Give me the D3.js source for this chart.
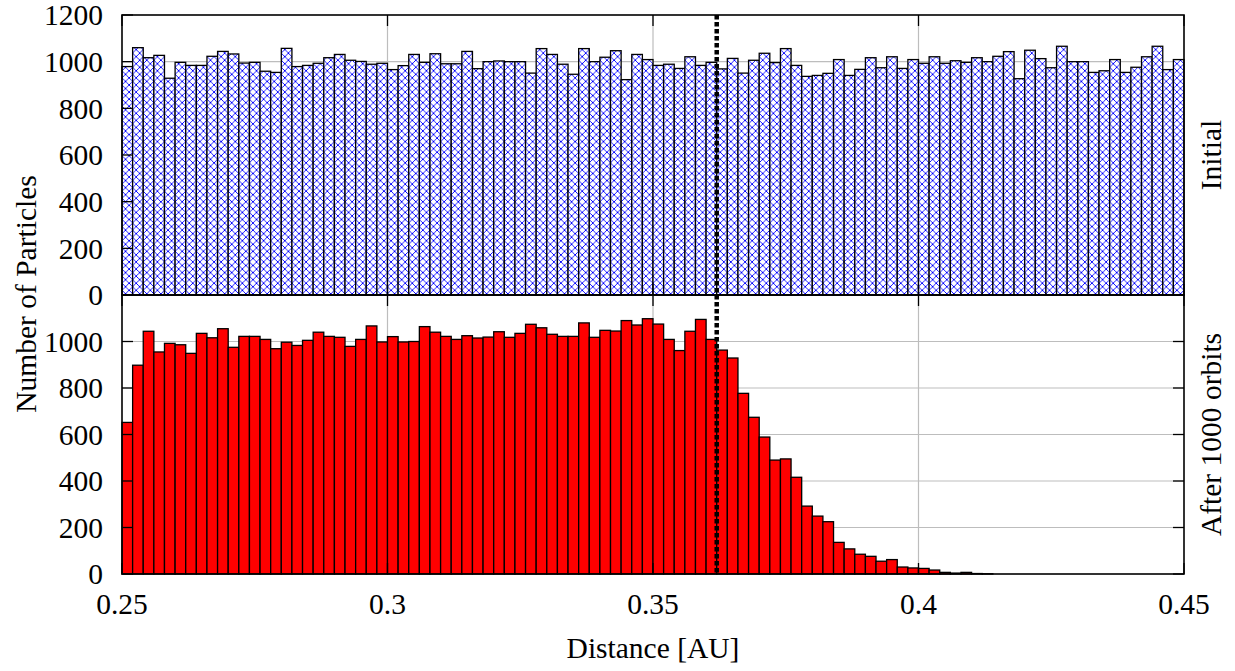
<!DOCTYPE html>
<html>
<head>
<meta charset="utf-8">
<script src="https://cdn.jsdelivr.net/npm/d3@7"></script>
<style>
  html, body { margin: 0; padding: 0; background: #fff; }
  svg { display: block; }
</style>
</head>
<body>
<svg id="chart" width="1235" height="671" font-family="'Liberation Serif', 'DejaVu Serif', serif"></svg>
<script>
// Histogram of particle distances: 100 bins of 0.002 AU from 0.25 to 0.45
const binStart = 0.25;
const binWidth = 0.002;

const initialCounts = [
  979,1060,1017,1027,929,997,984,984,1023,1044,1033,994,997,959,954,1057,979,984,993,1017,1031,1006,1001,989,993,
  966,983,1031,997,1034,991,991,1044,970,1000,1003,1000,1000,951,1056,1031,989,946,1056,1000,1019,1047,923,1031,1009,
  984,989,971,1021,984,997,969,1014,951,1006,1036,996,1056,984,937,941,950,1009,941,967,1017,974,1021,971,1009,
  993,1021,993,1004,997,1017,1000,1023,1043,927,1049,1013,974,1066,1000,1000,954,961,1009,954,976,1021,1066,966,1009
];

const finalCounts = [
  652,898,1044,955,992,986,949,1035,1016,1055,975,1022,1022,1009,969,997,983,1005,1040,1022,1018,979,1009,1067,998,
  1021,998,1000,1064,1040,1022,1009,1025,1015,1019,1042,1018,1035,1074,1059,1031,1022,1022,1080,1018,1048,1045,1090,1071,1098,
  1075,1009,961,1044,1095,1009,963,929,777,674,589,490,495,416,292,249,225,136,108,85,76,55,62,30,26,
  24,17,7,4,7,2,1,0,0,0,0,0,0,0,0,0,0,0,0,0,0,0,0,0,0
];

const xDomain = [0.25, 0.45];
const xTicks = [0.25, 0.3, 0.35, 0.4, 0.45];
const xTickLabels = ["0.25", "0.3", "0.35", "0.4", "0.45"];
const yDomain = [0, 1200];
const yTicksTop = [0, 200, 400, 600, 800, 1000, 1200];
const yTicksBottom = [0, 200, 400, 600, 800, 1000];
const markerX = 0.362;

const panelLabels = ["Initial", "After 1000 orbits"];
const xTitle = "Distance [AU]";
const yTitle = "Number of Particles";

const svg = d3.select("#chart");
const left = 122, right = 1184;
const panels = [
  { top: 15, bottom: 295, data: initialCounts, ticks: yTicksTop, label: panelLabels[0], hatch: true, rightTicks: false },
  { top: 295, bottom: 574, data: finalCounts, ticks: yTicksBottom, label: panelLabels[1], hatch: false, rightTicks: true }
];

const x = d3.scaleLinear().domain(xDomain).range([left, right]);
const binW = x(binStart + binWidth) - x(binStart);

// Blue cross-hatch for the initial distribution
const cell = binW / 1.5;
const defs = svg.append("defs");
const pat = defs.append("pattern")
  .attr("id", "crosshatch")
  .attr("patternUnits", "userSpaceOnUse")
  .attr("x", left).attr("y", 0)
  .attr("width", cell).attr("height", cell);
pat.append("rect").attr("width", cell).attr("height", cell).attr("fill", "#fff");
pat.append("path")
  .attr("d", `M0,0L${cell},${cell}M0,${cell}L${cell},0`)
  .attr("stroke", "#0000ff").attr("stroke-width", 1).attr("fill", "none")
  .attr("shape-rendering", "crispEdges");

const tickLen = 11;
const fs = 29.5;

panels.forEach((p, pi) => {
  const y = d3.scaleLinear().domain(yDomain).range([p.bottom, p.top]);
  const g = svg.append("g");

  // grid
  g.selectAll(".gx").data(xTicks.slice(1, -1)).join("line")
    .attr("x1", d => x(d)).attr("x2", d => x(d))
    .attr("y1", p.top).attr("y2", p.bottom)
    .attr("stroke", "#bdbdbd").attr("stroke-width", 1.2);
  g.selectAll(".gy").data(p.ticks.filter(t => t > 0 && t < 1200)).join("line")
    .attr("x1", left).attr("x2", right)
    .attr("y1", d => y(d)).attr("y2", d => y(d))
    .attr("stroke", "#bdbdbd").attr("stroke-width", 1.2);

  // bars
  g.selectAll(".bar").data(p.data).join("rect")
    .attr("x", (d, i) => x(binStart + i * binWidth))
    .attr("width", binW)
    .attr("y", d => y(d))
    .attr("height", d => p.bottom - y(d))
    .attr("fill", p.hatch ? "url(#crosshatch)" : "#ff0000")
    .attr("stroke", "#000")
    .attr("stroke-width", 1.3);

  // ticks (inward)
  const tk = g.append("g").attr("stroke", "#000").attr("stroke-width", 1.3);
  p.ticks.forEach(t => {
    tk.append("line").attr("x1", left).attr("x2", left + tickLen).attr("y1", y(t)).attr("y2", y(t));
    if (p.rightTicks) {
      tk.append("line").attr("x1", right).attr("x2", right - tickLen).attr("y1", y(t)).attr("y2", y(t));
    }
  });
  xTicks.forEach(t => {
    tk.append("line").attr("x1", x(t)).attr("x2", x(t)).attr("y1", p.top).attr("y2", p.top + tickLen);
    tk.append("line").attr("x1", x(t)).attr("x2", x(t)).attr("y1", p.bottom).attr("y2", p.bottom - tickLen);
  });

  // frame
  g.append("rect")
    .attr("x", left).attr("y", p.top)
    .attr("width", right - left).attr("height", p.bottom - p.top)
    .attr("fill", "none").attr("stroke", "#000").attr("stroke-width", 1.6);

  // y tick labels
  g.selectAll(".yl").data(p.ticks).join("text")
    .attr("x", 103).attr("y", d => y(d)).attr("dy", "0.35em")
    .attr("text-anchor", "end").attr("font-size", fs)
    .text(d => d);

  // panel label
  g.append("text")
    .attr("transform", `translate(1221,${(p.top + p.bottom) / 2}) rotate(-90)`)
    .attr("text-anchor", "middle").attr("font-size", fs)
    .text(p.label);
});

// x tick labels
svg.selectAll(".xl").data(xTicks).join("text")
  .attr("x", d => x(d)).attr("y", 614)
  .attr("text-anchor", "middle").attr("font-size", fs)
  .text((d, i) => xTickLabels[i]);

// axis titles
svg.append("text").attr("x", x(0.35)).attr("y", 658)
  .attr("text-anchor", "middle").attr("font-size", fs).text(xTitle);
svg.append("text")
  .attr("transform", `translate(36,294) rotate(-90)`)
  .attr("text-anchor", "middle").attr("font-size", fs).text(yTitle);

// dashed marker line
svg.append("line")
  .attr("x1", x(markerX)).attr("x2", x(markerX))
  .attr("y1", 15).attr("y2", 574)
  .attr("stroke", "#000").attr("stroke-width", 4.5)
  .attr("stroke-dasharray", "4.5,2.5");
</script>
</body>
</html>
